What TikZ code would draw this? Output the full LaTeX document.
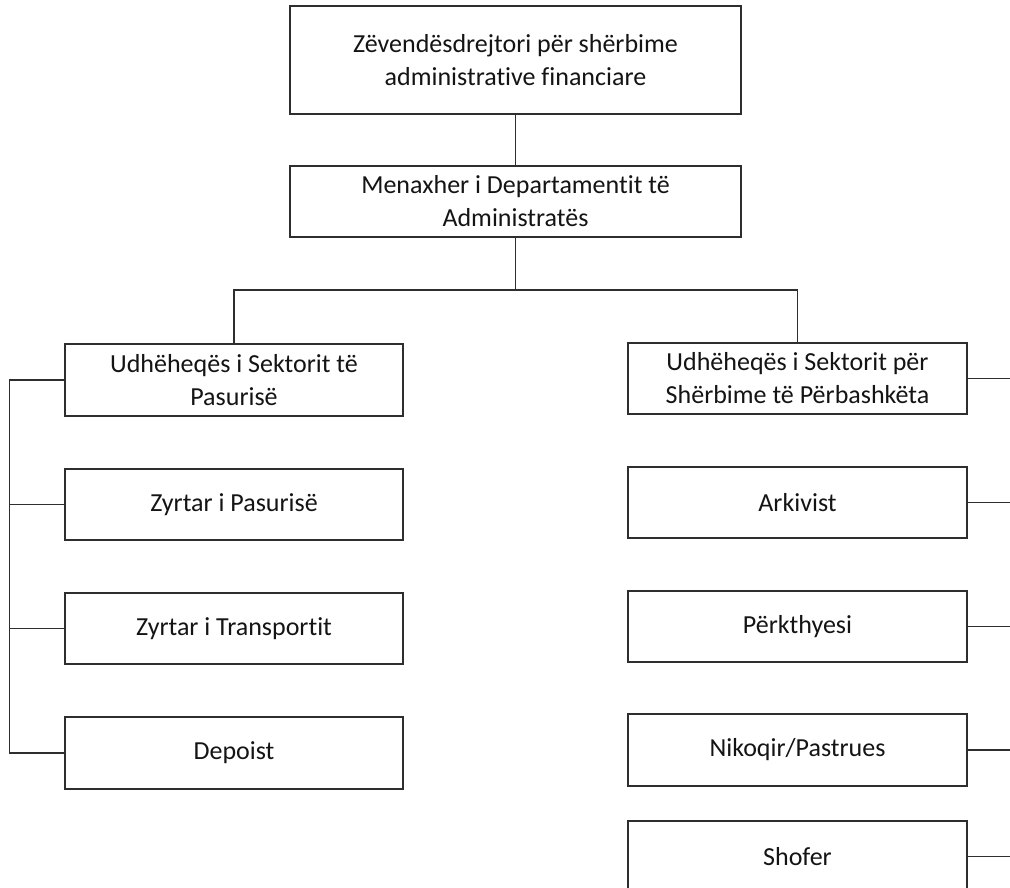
\documentclass[tikz,border=0pt]{standalone}
\usepackage{fontspec}
\setmainfont{Carlito}[Ligatures={NoCommon}]
\begin{document}
\begin{tikzpicture}[x=1pt,y=-1pt,
  orgbox/.style={draw=black!82, line width=1.8pt, fill=white, inner sep=0pt,
    align=center, text=black!92, font=\fontsize{26}{33}\selectfont},
  link/.style={draw=black!82, line width=1.8pt}]
  \useasboundingbox (0,0) rectangle (1010,887);
  \clip (0,0) rectangle (1010,887);

  % top of the chain
  \node[orgbox, minimum width=451pt, minimum height=108pt] (deputy) at (515.5,60)
    {Zëvendësdrejtori për shërbime\\administrative financiare};
  \node[orgbox, minimum width=451pt, minimum height=71pt] (manager) at (515.5,201.5)
    {Menaxher i Departamentit të\\Administratës};

  % property sector (left column)
  \node[orgbox, minimum width=338pt, minimum height=72pt] (propHead) at (234,380)
    {Udhëheqës i Sektorit të\\Pasurisë};
  \node[orgbox, minimum width=338pt, minimum height=71pt] (propOff) at (234,504.5)
    {Zyrtar i Pasurisë};
  \node[orgbox, minimum width=338pt, minimum height=71pt] (transOff) at (234,628.5)
    {Zyrtar i Transportit};
  \node[orgbox, minimum width=338pt, minimum height=72pt] (depot) at (234,753)
    {Depoist};

  % shared services sector (right column)
  \node[orgbox, minimum width=339pt, minimum height=71pt] (sharedHead) at (797.5,378.5)
    {Udhëheqës i Sektorit për\\Shërbime të Përbashkëta};
  \node[orgbox, minimum width=339pt, minimum height=71pt] (archivist) at (797.5,502.5)
    {Arkivist};
  \node[orgbox, minimum width=339pt, minimum height=71pt] (translator) at (797.5,626.5)
    {Përkthyesi};
  \node[orgbox, minimum width=339pt, minimum height=72pt] (cleaner) at (797.5,750)
    {Nikoqir/Pastrues};
  \node[orgbox, minimum width=339pt, minimum height=71pt] (driver) at (797.5,856.5)
    {Shofer};

  % connector anchors
  \coordinate (bus) at (515.5,290);
  \coordinate (busL) at (234,290);
  \coordinate (busR) at (797.5,290);
  \coordinate (spine) at (9.5,753);
  \coordinate (edge) at (1012,0);

  \draw[link] (deputy.south) -- (manager.north);
  \draw[link] (manager.south) -- (bus);
  \draw[link] (propHead.north) -- (busL) -- (busR) -- (sharedHead.north);

  \draw[link] (propHead.west) -| (spine) -- (depot.west);
  \draw[link] (propOff.west) -- (propOff.west -| spine);
  \draw[link] (transOff.west) -- (transOff.west -| spine);

  \foreach \n in {sharedHead,archivist,translator,cleaner,driver}
    \draw[link] (\n.east) -- (\n.east -| edge);
\end{tikzpicture}
\end{document}
